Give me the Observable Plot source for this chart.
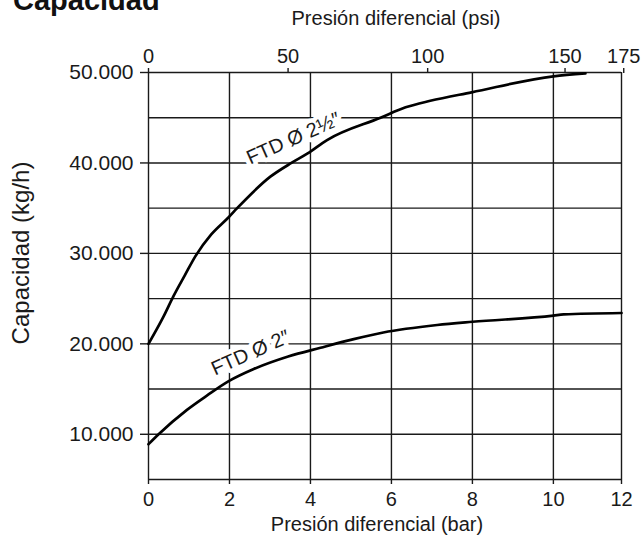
<!DOCTYPE html>
<html>
<head>
<meta charset="utf-8">
<script src="https://cdn.jsdelivr.net/npm/d3@7"></script>
<script src="https://cdn.jsdelivr.net/npm/@observablehq/plot@0.6"></script>
<style>
  html, body { margin: 0; padding: 0; background: #fff; overflow: hidden; }
  #wrap { position: relative; width: 643px; height: 540px; }
  #title { position: absolute; left: 13px; top: -14px; font: bold 29px "Liberation Sans", Arial, Helvetica, sans-serif; color: #111; line-height: 29px; white-space: nowrap; }
</style>
</head>
<body>
<div id="wrap"><div id="title">Capacidad</div></div>
<script>
// ---- data ----
const barTicks = [0, 2, 4, 6, 8, 10, 12];
const capTicks = [10000, 20000, 30000, 40000, 50000];
const capGrid = [5000, 10000, 15000, 20000, 25000, 30000, 35000, 40000, 45000, 50000];
const psiTicks = [0, 50, 100, 150, 175];
const PSI_PER_BAR = 14.5038;

// FTD Ø 2½"
const pres25 = [0, 0.37, 0.62, 0.9, 1.16, 1.55, 1.98, 2.19, 3.01, 3.53, 3.92, 4.41, 5.73, 6.35, 6.96, 7.98, 10, 10.94];
const cap25  = [20000, 23000, 25300, 27600, 29700, 32100, 34000, 35000, 38480, 40000, 41020, 42530, 45000, 46150, 46870, 47810, 49580, 49900];

// FTD Ø 2"
const pres2 = [0, 0.25, 0.95, 1.45, 1.97, 2.6, 3.45, 4.25, 5.07, 5.8, 7.13, 8, 10, 10.3, 12];
const cap2  = [8900, 10000, 12700, 14300, 15850, 17220, 18600, 19570, 20520, 21250, 22080, 22440, 23110, 23250, 23410];

const curveLabels = [
  {text: "FTD Ø 2½\u2033", p: 3.58, c: 42700},
  {text: "FTD Ø 2\u2033", p: 2.52, c: 19000}
];

const xLabelTop = "Presión diferencial (psi)";
const xLabelBottom = "Presión diferencial (bar)";
const yLabel = "Capacidad (kg/h)";

// ---- chart ----
const W = 643, H = 540, ML = 148, MR = 22, MT = 72, MB = 61;
const font = '"Liberation Sans", Arial, Helvetica, sans-serif';
const ink = "#1a1a1a";
const fmt = d => d3.format(",")(d).replace(/,/g, ".");

const s25 = pres25.map((p, i) => ({p, c: cap25[i]}));
const s2 = pres2.map((p, i) => ({p, c: cap2[i]}));

const chart = Plot.plot({
  width: W,
  height: H,
  marginLeft: ML,
  marginRight: MR,
  marginTop: MT,
  marginBottom: MB,
  style: {fontFamily: font, fontSize: "20px", color: ink, background: "white"},
  x: {type: "linear", domain: [0, 10, 12], range: [ML, ML + (W - ML - MR) * 0.856, W - MR]},
  y: {type: "linear", domain: [5000, 50000], range: [H - MB, MT]},
  marks: [
    Plot.ruleY(capGrid, {stroke: ink, strokeWidth: 1.4}),
    Plot.ruleX(barTicks, {stroke: ink, strokeWidth: 1.4}),
    Plot.axisY({ticks: capTicks, tickSize: 8, tickPadding: 7, tickFormat: fmt, label: null, fontSize: 21, strokeWidth: 1.4}),
    Plot.axisX({anchor: "bottom", ticks: barTicks, tickSize: 5, tickPadding: 7, label: null, fontSize: 20, strokeWidth: 1.4}),
    Plot.axisX(psiTicks.map(v => v / PSI_PER_BAR), {anchor: "top", tickSize: 5, tickPadding: 5, tickFormat: d => Math.round(d * PSI_PER_BAR), label: null, fontSize: 20, strokeWidth: 1.4}),
    Plot.line(s25, {x: "p", y: "c", stroke: "black", strokeWidth: 2.7, curve: "monotone-x"}),
    Plot.line(s2, {x: "p", y: "c", stroke: "black", strokeWidth: 2.7, curve: "monotone-x"}),
    Plot.text(curveLabels, {x: "p", y: "c", text: "text", rotate: -24, fontSize: 20, fill: ink, stroke: "white", strokeWidth: 9, textAnchor: "middle", lineAnchor: "middle"}),
    Plot.text([xLabelTop], {text: d => d, frameAnchor: "top", lineAnchor: "bottom", dy: -48, dx: 11, fontSize: 20, fill: ink}),
    Plot.text([xLabelBottom], {text: d => d, frameAnchor: "bottom", lineAnchor: "bottom", dy: 51, dx: -8, fontSize: 20, fill: ink}),
    Plot.text([yLabel], {text: d => d, frameAnchor: "left", rotate: -90, textAnchor: "middle", lineAnchor: "middle", dx: -127, dy: -23, fontSize: 24, fill: ink})
  ]
});
document.getElementById("wrap").prepend(chart);
</script>
</body>
</html>
